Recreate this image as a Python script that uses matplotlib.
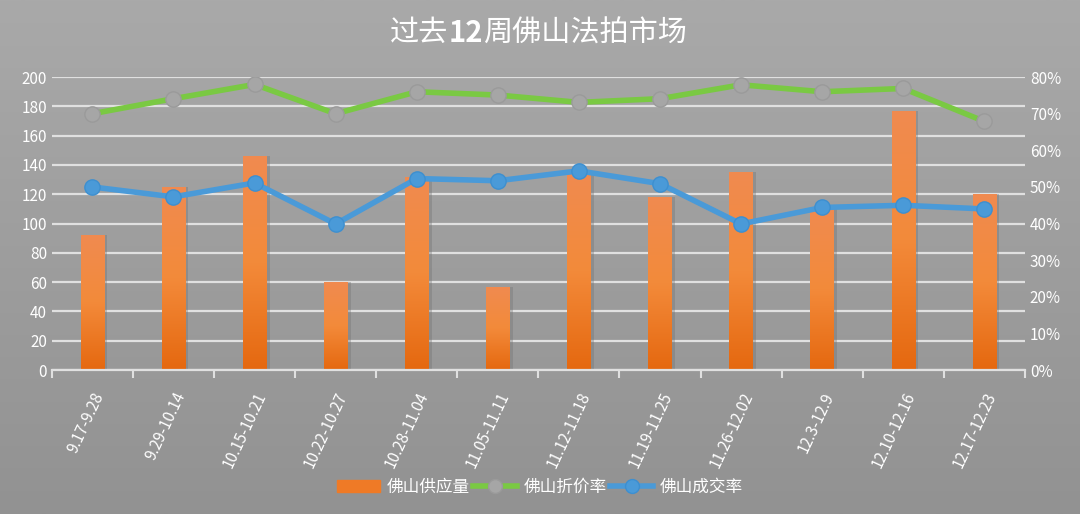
import matplotlib.pyplot as plt
import numpy as np
from matplotlib.ticker import PercentFormatter
from matplotlib.lines import Line2D
from matplotlib.patches import Patch
from matplotlib.colors import LinearSegmentedColormap

plt.rcParams['font.family'] = ['Noto Sans CJK SC', 'DejaVu Sans']

weeks = ['9.17-9.28', '9.29-10.14', '10.15-10.21', '10.22-10.27', '10.28-11.04',
         '11.05-11.11', '11.12-11.18', '11.19-11.25', '11.26-12.02', '12.3-12.9',
         '12.10-12.16', '12.17-12.23']
supply = [92, 125, 146, 60, 132, 57, 135, 118, 135, 110, 177, 120]
discount_rate = [0.70, 0.741, 0.78, 0.70, 0.76, 0.751, 0.731, 0.741, 0.779, 0.76, 0.769, 0.679]
deal_rate = [0.50, 0.473, 0.511, 0.399, 0.523, 0.517, 0.544, 0.509, 0.399, 0.444, 0.45, 0.44]

fig = plt.figure(figsize=(10.8, 5.14), dpi=100)

# gray gradient background
bg = fig.add_axes([0, 0, 1, 1], zorder=-10)
grad = np.linspace(0, 1, 256).reshape(-1, 1)
bg.imshow(grad, aspect='auto', cmap=LinearSegmentedColormap.from_list('bg', ['#a9a9a9', '#929292']),
          extent=[0, 1, 0, 1])
bg.axis('off')

ax = fig.add_axes([0.048, 0.280, 0.901, 0.570])
ax.patch.set_alpha(0)
x = np.arange(len(weeks))

bars = ax.bar(x, supply, width=0.29, color='#ef7a26', zorder=2)
orange = LinearSegmentedColormap.from_list('or', ['#e5680f', '#f38a3a', '#f08b50'])
for b in bars:
    # shadow
    ax.bar(b.get_x() + b.get_width() / 2 + 0.04, b.get_height(), width=b.get_width(),
           color='#707070', alpha=0.35, zorder=1.5)
    im = ax.imshow(grad, aspect='auto', cmap=orange, origin='lower',
                   extent=[b.get_x(), b.get_x() + b.get_width(), 0, b.get_height()], zorder=2.1)
    im.set_clip_path(b)

ax.set_xlim(-0.5, len(weeks) - 0.5)
ax.set_ylim(0, 200)
ax.set_yticks(range(0, 201, 20))
ax.grid(axis='y', color='#e0e0e0', linewidth=1.6, zorder=0)
ax.set_axisbelow(True)
ax.set_xticks(x)
ax.set_xticklabels(weeks, rotation=65, ha='right', rotation_mode='anchor', color='white', fontsize=11)
ax.set_xticks(np.arange(-0.5, len(weeks)), minor=True)
ax.tick_params(axis='x', which='major', length=0, pad=14)
ax.tick_params(axis='x', which='minor', length=6, color='#e0e0e0', width=1.5, direction='out')
ax.tick_params(axis='y', length=0, colors='white', labelsize=11)
for s in ['top', 'right', 'left']:
    ax.spines[s].set_visible(False)
ax.spines['bottom'].set_color('#e0e0e0')
ax.spines['bottom'].set_linewidth(1.6)

ax2 = ax.twinx()
ax2.set_ylim(0, 0.8)
ax2.set_yticks(np.arange(0, 0.81, 0.1))
ax2.yaxis.set_major_formatter(PercentFormatter(1.0, decimals=0))
ax2.tick_params(axis='y', length=0, colors='white', labelsize=11)
for s in ['top', 'right', 'left', 'bottom']:
    ax2.spines[s].set_visible(False)

ax2.plot(x, discount_rate, color='#7ac943', linewidth=4, marker='o', markersize=11,
         markerfacecolor='#a6a6a6', markeredgecolor='#9a9a9a', zorder=3)
ax2.plot(x, deal_rate, color='#4a9ad8', linewidth=4, marker='o', markersize=11,
         markerfacecolor='#4a9ad8', markeredgecolor='#3d8fd0', zorder=3)

# title with bold "12"
t1 = fig.text(0.361, 0.935, '过去', ha='left', va='center', color='white', fontsize=21)
t2 = ax.annotate('12', xycoords=t1, xy=(1, 0.5), va='center', ha='left', color='white',
                 fontsize=21, fontweight='bold', annotation_clip=False)
t3 = ax.annotate('周佛山法拍市场', xycoords=t2, xy=(1, 0.5), va='center', ha='left', color='white',
                 fontsize=21, annotation_clip=False)

handles = [Patch(color='#ef7a26'),
           Line2D([], [], color='#7ac943', linewidth=4, marker='o', markersize=10,
                  markerfacecolor='#a6a6a6', markeredgecolor='#9a9a9a'),
           Line2D([], [], color='#4a9ad8', linewidth=4, marker='o', markersize=10,
                  markerfacecolor='#4a9ad8', markeredgecolor='#3d8fd0')]
fig.legend(handles, ['佛山供应量', '佛山折价率', '佛山成交率'], loc='center', bbox_to_anchor=(0.5, 0.052),
           ncol=3, frameon=False, fontsize=12, labelcolor='white', handlelength=2.6,
           columnspacing=0.2, handletextpad=0.4)

fig.savefig('out.png', dpi=100)
